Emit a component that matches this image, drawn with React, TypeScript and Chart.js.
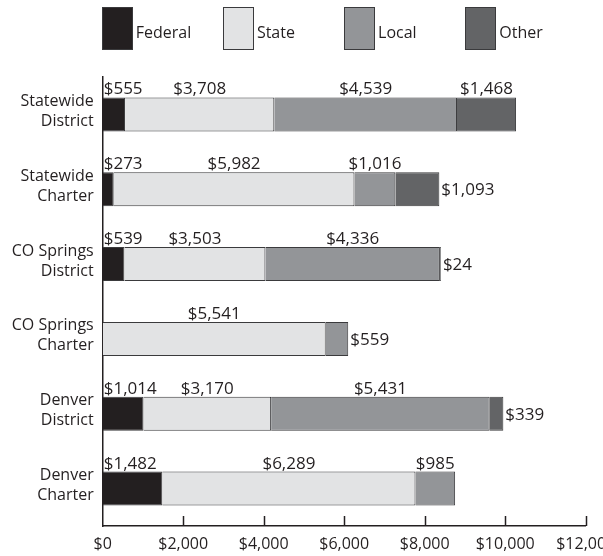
import React, { useEffect, useRef } from "react";
import { Chart, registerables } from "chart.js";

Chart.register(...registerables);

const categories: string[][] = [
  ["Statewide", "District"],
  ["Statewide", "Charter"],
  ["CO Springs", "District"],
  ["CO Springs", "Charter"],
  ["Denver", "District"],
  ["Denver", "Charter"],
];
const seriesNames = ["Federal", "State", "Local", "Other"];
const federal = [555, 273, 539, null, 1014, 1482];
const stateVals = [3708, 5982, 3503, 5541, 3170, 6289];
const local = [4539, 1016, 4336, 559, 5431, 985];
const other = [1468, 1093, 24, null, 339, null];
const xTicks = [0, 2000, 4000, 6000, 8000, 10000, 12000];
// value labels drawn to the right of the bar instead of above it
const sideLabels = [
  "Statewide Charter:Other",
  "CO Springs District:Other",
  "CO Springs Charter:Local",
  "Denver District:Other",
];

const INK = "#231f20";
const colors = ["#231f20", "#e2e3e4", "#939598", "#636466"];
const FONT = "'Open Sans', 'Noto Sans', sans-serif";

const fmt = (v: number) => "$" + v.toLocaleString("en-US");

const labelPlugin = {
  id: "segLabels",
  afterDatasetsDraw(chart: any) {
    const ctx = chart.ctx;
    ctx.save();
    ctx.font = `17px ${FONT}`;
    ctx.fillStyle = INK;
    chart.data.datasets.forEach((ds: any, i: number) => {
      const meta = chart.getDatasetMeta(i);
      meta.data.forEach((bar: any, j: number) => {
        const v = ds.data[j];
        if (v == null) return;
        const p = bar.getProps(["x", "y", "base", "height"], true);
        const text = fmt(v);
        const key = categories[j].join(" ") + ":" + seriesNames[i];
        const top = p.y - p.height / 2;
        if (sideLabels.includes(key)) {
          ctx.textAlign = "left";
          ctx.textBaseline = "middle";
          ctx.fillText(text, p.x + 2, p.y + 1);
        } else if (i === 0) {
          ctx.textAlign = "left";
          ctx.textBaseline = "alphabetic";
          ctx.fillText(text, p.base + 1, top - 3);
        } else {
          ctx.textAlign = "center";
          ctx.textBaseline = "alphabetic";
          ctx.fillText(text, (p.base + p.x) / 2, top - 3);
        }
      });
    });
    // inward tick marks on the x axis
    const xs = chart.scales.x;
    const b = chart.chartArea.bottom;
    ctx.strokeStyle = INK;
    ctx.lineWidth = 1.5;
    xs.ticks.forEach((t: any) => {
      if (t.value === 0) return;
      const px = Math.round(xs.getPixelForValue(t.value)) + 0.5;
      ctx.beginPath();
      ctx.moveTo(px, b);
      ctx.lineTo(px, b - 10);
      ctx.stroke();
    });
    ctx.restore();
  },
};

export default function App() {
  const ref = useRef<HTMLCanvasElement | null>(null);

  useEffect(() => {
    if (!ref.current) return;
    const series = [federal, stateVals, local, other];
    const chart = new Chart(ref.current, {
      type: "bar",
      data: {
        labels: categories,
        datasets: series.map((d, i) => ({
          label: seriesNames[i],
          data: d,
          backgroundColor: colors[i],
          borderColor: "#3a3a3c",
          borderWidth: 1,
          barPercentage: 0.455,
          categoryPercentage: 1,
        })),
      } as any,
      options: {
        indexAxis: "y",
        animation: false,
        responsive: false,
        layout: { padding: { top: 77, right: 54.3, left: 0, bottom: 0 } },
        plugins: { legend: { display: false }, tooltip: { enabled: false } },
        scales: {
          x: {
            stacked: true,
            min: 0,
            max: 12000,
            afterBuildTicks: (s: any) => {
              s.ticks = xTicks.map((v) => ({ value: v }));
            },
            afterFit: (s: any) => {
              s.height = 30;
            },
            grid: { display: false, drawTicks: false },
            border: { display: true, color: INK, width: 1.5 },
            ticks: {
              color: INK,
              padding: 9,
              font: { family: FONT, size: 16 },
              callback: (v: any) => fmt(Number(v)),
            },
          },
          y: {
            stacked: true,
            afterFit: (s: any) => {
              s.width = 102.7;
            },
            grid: { display: false, drawTicks: false },
            border: { display: true, color: INK, width: 1.5 },
            ticks: {
              color: INK,
              padding: 9,
              labelOffset: -3,
              font: { family: FONT, size: 16, lineHeight: "20px" },
            },
          },
        },
      } as any,
      plugins: [labelPlugin],
    });
    return () => chart.destroy();
  }, []);

  return (
    <div
      style={{
        position: "fixed",
        left: 0,
        top: 0,
        width: 603,
        height: 556,
        overflow: "hidden",
        background: "#fff",
      }}
    >
      <canvas ref={ref} width={640} height={556} style={{ display: "block" }} />
      <div style={{ position: "absolute", left: 101.7, top: 7, display: "flex" }}>
        {seriesNames.map((n, i) => (
          <div key={n} style={{ width: 121.2, display: "flex", alignItems: "center" }}>
            <div
              style={{
                width: 31,
                height: 43,
                boxSizing: "border-box",
                background: colors[i],
                border: "1px solid #3a3a3c",
              }}
            />
            <span
              style={{
                marginLeft: 3,
                marginTop: 6,
                fontFamily: FONT,
                fontSize: 16,
                color: INK,
              }}
            >
              {n}
            </span>
          </div>
        ))}
      </div>
    </div>
  );
}
